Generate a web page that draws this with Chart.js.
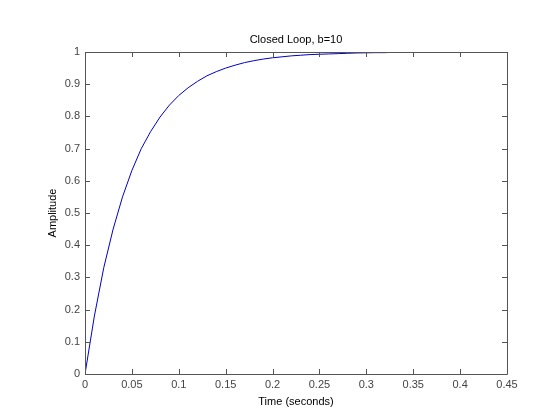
<!DOCTYPE html>
<html>
<head>
<meta charset="utf-8">
<script src="https://cdn.jsdelivr.net/npm/chart.js@4"></script>
<style>
    html, body { margin: 0; padding: 0; background: #ffffff; }
    canvas { display: block; }
</style>
</head>
<body>
<canvas id="stepChart" width="560" height="420"></canvas>
<script>
// step response
const timeValues = [0, 0.01, 0.02, 0.03, 0.04, 0.05, 0.06, 0.07, 0.08, 0.09, 0.10,
    0.11, 0.12, 0.13, 0.14, 0.15, 0.16, 0.17, 0.18, 0.19, 0.20,
    0.21, 0.22, 0.23, 0.24, 0.25, 0.26, 0.27, 0.28, 0.29, 0.30,
    0.31, 0.32, 0.324];
const amplitudeValues = [0, 0.18, 0.33, 0.45, 0.55, 0.632, 0.70, 0.753, 0.798, 0.835, 0.865,
    0.889, 0.909, 0.926, 0.939, 0.950, 0.959, 0.967, 0.973, 0.978, 0.982,
    0.985, 0.988, 0.990, 0.992, 0.993, 0.994, 0.995, 0.996, 0.997, 0.9975,
    0.998, 0.998, 0.9985];
const xTicks = [0, 0.05, 0.1, 0.15, 0.2, 0.25, 0.3, 0.35, 0.4, 0.45];
const yTicks = [0, 0.1, 0.2, 0.3, 0.4, 0.5, 0.6, 0.7, 0.8, 0.9, 1];

const axisColor = '#555555';
const labelFont = { family: "'Liberation Sans', Arial, sans-serif", size: 11 };

// matlab style box with inward ticks
const boxTicks = {
    id: 'boxTicks',
    afterDraw(chart) {
        const { ctx, chartArea: a, scales } = chart;
        const len = 5;
        ctx.save();
        ctx.strokeStyle = axisColor;
        ctx.lineWidth = 1;
        ctx.beginPath();
        ctx.rect(Math.round(a.left) + 0.5, Math.round(a.top) + 0.5,
            Math.round(a.right - a.left), Math.round(a.bottom - a.top));
        scales.x.ticks.forEach((t, i) => {
            const px = Math.round(scales.x.getPixelForTick(i)) + 0.5;
            ctx.moveTo(px, a.bottom);
            ctx.lineTo(px, a.bottom - len);
            ctx.moveTo(px, a.top);
            ctx.lineTo(px, a.top + len);
        });
        scales.y.ticks.forEach((t, i) => {
            const py = Math.round(scales.y.getPixelForTick(i)) + 0.5;
            ctx.moveTo(a.left, py);
            ctx.lineTo(a.left + len, py);
            ctx.moveTo(a.right, py);
            ctx.lineTo(a.right - len, py);
        });
        ctx.stroke();
        ctx.restore();
    }
};

const fmt = v => String(parseFloat(Number(v).toFixed(2)));

new Chart(document.getElementById('stepChart'), {
    type: 'line',
    data: {
        datasets: [{
            data: timeValues.map((t, i) => ({ x: t, y: amplitudeValues[i] })),
            borderColor: '#0000c8',
            borderWidth: 1,
            pointRadius: 0,
            tension: 0,
            fill: false
        }]
    },
    options: {
        responsive: false,
        animation: false,
        devicePixelRatio: 1,
        layout: { padding: { left: 0, right: 53, top: 0, bottom: 0 } },
        plugins: {
            legend: { display: false },
            tooltip: { enabled: false },
            title: { display: false }
        },
        scales: {
            x: {
                type: 'linear',
                min: 0,
                max: 0.45,
                afterBuildTicks: s => { s.ticks = xTicks.map(v => ({ value: v })); },
                afterFit: s => { s.height = 46; },
                grid: { display: false, drawTicks: false },
                border: { display: false },
                ticks: { color: '#444444', font: labelFont, padding: 4, maxRotation: 0, callback: fmt },
                title: {
                    display: true,
                    text: 'Time (seconds)',
                    color: '#000000',
                    font: labelFont,
                    padding: { top: 0, bottom: 11 }
                }
            },
            // top axis only carries the plot title, centred over the axes box
            xTop: {
                type: 'linear',
                position: 'top',
                min: 0,
                max: 0.45,
                afterFit: s => { s.height = 52; },
                grid: { display: false, drawTicks: false },
                border: { display: false },
                ticks: { display: false },
                title: {
                    display: true,
                    text: 'Closed Loop, b=10',
                    color: '#000000',
                    font: labelFont,
                    padding: { top: 33, bottom: 0 }
                }
            },
            y: {
                type: 'linear',
                min: 0,
                max: 1,
                afterBuildTicks: s => { s.ticks = yTicks.map(v => ({ value: v })); },
                afterFit: s => { s.width = 85; },
                grid: { display: false, drawTicks: false },
                border: { display: false },
                ticks: { color: '#444444', font: labelFont, padding: 5, callback: fmt },
                title: {
                    display: true,
                    text: 'Amplitude',
                    color: '#000000',
                    font: labelFont,
                    padding: { top: 46, bottom: 0 }
                }
            }
        }
    },
    plugins: [boxTicks]
});
</script>
</body>
</html>
